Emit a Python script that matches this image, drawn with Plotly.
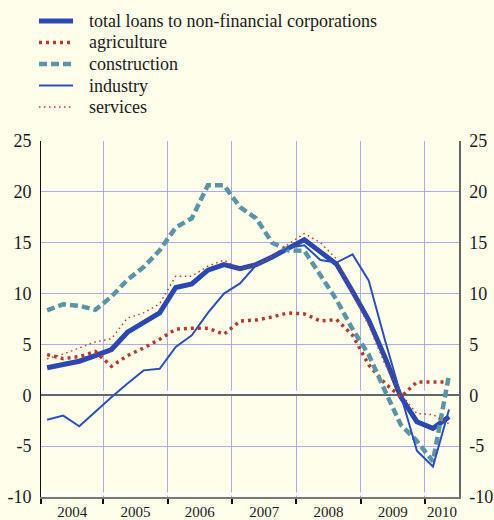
import plotly.graph_objects as go

# quarterly growth rates, % y/y, 2004Q1 - 2010Q2
quarters = [f"{y}Q{q}" for y in range(2004, 2011) for q in range(1, 5)][:26]

total = [2.7, 3.05, 3.35, 3.9, 4.5, 6.2, 7.2, 8.1, 10.6, 10.95, 12.3, 12.85, 12.45,
         12.85, 13.6, 14.5, 15.3, 14.1, 12.9, 10.2, 7.4, 3.8, -0.15, -2.6, -3.25, -2.1]
agriculture = [4.0, 3.6, 3.8, 4.3, 2.85, 3.9, 4.65, 5.5, 6.5, 6.6, 6.6, 6.0, 7.3,
               7.4, 7.7, 8.1, 8.0, 7.3, 7.45, 5.9, 3.0, 1.2, -0.15, 1.3, 1.3, 1.3]
construction = [8.35, 8.95, 8.8, 8.4, 9.7, 11.35, 12.6, 14.25, 16.5, 17.4, 20.65, 20.65, 18.5,
                17.4, 15.0, 14.25, 14.2, 11.8, 9.4, 6.5, 4.0, 0.5, -2.9, -4.5, -6.5, 2.0]
industry = [-2.4, -2.0, -3.05, -1.6, -0.2, 1.15, 2.45, 2.6, 4.75, 5.9, 8.1, 10.0, 11.0,
            12.8, 13.55, 14.5, 14.75, 13.3, 13.05, 13.85, 11.3, 5.5, 0.0, -5.45, -7.0, -1.4]
services = [3.6, 4.05, 4.65, 5.25, 5.55, 7.6, 8.1, 9.0, 11.7, 11.7, 12.7, 13.3, 12.4,
            12.8, 13.7, 14.85, 15.9, 15.0, 13.4, 10.0, 6.9, 3.1, 0.15, -1.8, -1.9, -2.8]

year_labels = ["2004", "2005", "2006", "2007", "2008", "2009", "2010"]
y_ticks = [-10, -5, 0, 5, 10, 15, 20, 25]
y_labels = ["-10", "-5", "0", "5", "10", "15", "20", "25"]

# quarter label -> decimal year at mid-quarter
x = [int(q[:4]) + (int(q[-1]) - 0.5) / 4 for q in quarters]

W, H = 494, 520
M = dict(l=41, r=35, t=141, b=23)
X_MIN, X_MAX = 2004.03, 2010.53
BG = "#fefeea"
GRID = "#a9adf0"
FONT = "'Liberation Serif', 'Times New Roman', Times, serif"
INK = "#1a1a1a"

series = [
    ("total loans to non-financial corporations", total, dict(color="#2a48ad", width=5)),
    ("agriculture", agriculture, dict(color="#b53a2e", width=3.5, dash="3px,4px")),
    ("construction", construction, dict(color="#5b95a5", width=4.5, dash="8px,4px")),
    ("industry", industry, dict(color="#2d4fb8", width=2)),
    ("services", services, dict(color="#c0392b", width=1.5, dash="1.5px,3.5px")),
]

fig = go.Figure()
for name, values, line in series:
    fig.add_trace(go.Scatter(x=x, y=values, name=name, mode="lines", line=line,
                             showlegend=False))

# invisible trace to carry the right-hand axis
fig.add_trace(go.Scatter(x=[X_MIN], y=[0], yaxis="y2", showlegend=False,
                         mode="markers", marker=dict(opacity=0), hoverinfo="skip"))


# legend drawn by hand so the row spacing matches the original
def px_x(px):
    return (px - M["l"]) / (W - M["l"] - M["r"])


def px_y(py):
    return (H - M["b"] - py) / (H - M["t"] - M["b"])


legend_rows = [21, 42.5, 64, 85.5, 107]
for (name, _, line), row in zip(series, legend_rows):
    fig.add_shape(type="line", xref="paper", yref="paper",
                  x0=px_x(39), x1=px_x(73), y0=px_y(row), y1=px_y(row),
                  line=line)
    fig.add_annotation(xref="paper", yref="paper", x=px_x(87), y=px_y(row),
                       xanchor="left", yanchor="middle", showarrow=False,
                       text=name, font=dict(family=FONT, size=18, color=INK))

# label positions: middle of each visible year
label_pos = [(max(int(y), X_MIN) + min(int(y) + 1, X_MAX)) / 2 for y in year_labels]

fig.update_layout(
    width=W,
    height=H,
    paper_bgcolor=BG,
    plot_bgcolor=BG,
    margin=dict(**M, autoexpand=False),
    font=dict(family=FONT, size=18, color=INK),
    showlegend=False,
    xaxis=dict(
        range=[X_MIN, X_MAX],
        tickmode="array",
        tickvals=label_pos,
        ticktext=year_labels,
        tickfont=dict(size=15),
        ticks="",
        showgrid=False,
        zeroline=False,
        showline=True,
        linecolor="#777777",
        linewidth=1.5,
        ticklabelstandoff=0,
        minor=dict(
            tickmode="array",
            tickvals=[X_MIN, 2005, 2006, 2007, 2008, 2009, 2010],
            showgrid=True,
            gridcolor=GRID,
            gridwidth=1,
            ticks="outside",
            ticklen=5,
            tickwidth=1.5,
            tickcolor="#111111",
        ),
    ),
    yaxis=dict(
        range=[-10, 25],
        tickvals=y_ticks,
        ticktext=y_labels,
        ticks="",
        showgrid=True,
        gridcolor=GRID,
        gridwidth=1,
        zeroline=True,
        zerolinecolor="#666666",
        zerolinewidth=1.5,
        showline=True,
        linecolor="#111111",
        linewidth=1,
        ticklabelstandoff=5,
    ),
    yaxis2=dict(
        range=[-10, 25],
        tickvals=y_ticks,
        ticktext=y_labels,
        overlaying="y",
        side="right",
        ticks="",
        showgrid=False,
        zeroline=False,
        showline=True,
        linecolor="#666666",
        linewidth=1.5,
        ticklabelstandoff=5,
    ),
)

# light band just above the zero line and the bottom axis
for anchor in (0, -10):
    fig.add_shape(type="line", xref="x", yref="y", x0=X_MIN, x1=X_MAX,
                  ysizemode="pixel", yanchor=anchor, y0=3, y1=3,
                  line=dict(color="white", width=3), layer="between")

# drop the browser's default page margin so the figure sits at the corner
fig.write_html(
    "out.html",
    config={"displayModeBar": False},
    post_script="document.body.style.margin='0';"
    "document.body.style.background='%s';" % BG,
)
